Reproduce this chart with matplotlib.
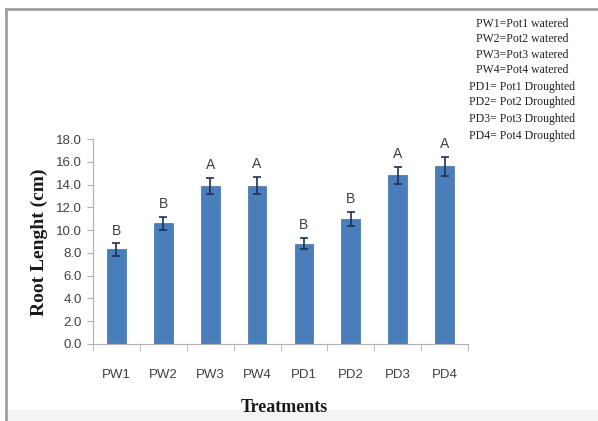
import matplotlib
matplotlib.use("Agg")
import matplotlib.pyplot as plt
from matplotlib.patches import Rectangle
from matplotlib.lines import Line2D
import numpy as np

categories = ["PW1", "PW2", "PW3", "PW4", "PD1", "PD2", "PD3", "PD4"]
values = [8.3, 10.6, 13.9, 13.9, 8.8, 11.0, 14.8, 15.6]
errors = [0.55, 0.55, 0.7, 0.75, 0.5, 0.6, 0.75, 0.85]
letters = ["B", "B", "A", "A", "B", "B", "A", "A"]
legend_lines = ["PW1=Pot1 watered", "PW2=Pot2 watered", "PW3=Pot3 watered",
                "PW4=Pot4 watered", "PD1= Pot1 Droughted", "PD2= Pot2 Droughted",
                "PD3= Pot3 Droughted", "PD4= Pot4 Droughted"]
yticks = np.arange(0, 18.01, 2.0)

W, H = 598, 421
fig = plt.figure(figsize=(W / 100, H / 100), dpi=100)
fig.patch.set_facecolor("white")

# outer frame
fig.add_artist(Line2D([6 / W, 6 / W], [0, 1 - 9 / H], color="#a0a0a0", lw=2.0, transform=fig.transFigure))
fig.add_artist(Line2D([6 / W, 1], [1 - 9 / H, 1 - 9 / H], color="#a0a0a0", lw=2.0, transform=fig.transFigure))
fig.add_artist(Rectangle((7 / W, 0), 1, 11 / H, color="#f4f4f4", transform=fig.transFigure, zorder=0))

ax = fig.add_axes([93 / W, 77 / H, (468 - 93) / W, (344 - 139) / H])
x = np.arange(len(categories))
ax.bar(x, values, width=0.4, color="#4A7EBB", edgecolor="#3f6fa8", linewidth=0.5, zorder=2)
ax.errorbar(x, values, yerr=errors, fmt="none", ecolor="#1f2f55", elinewidth=1.2,
            capsize=3, capthick=1.2, zorder=3)
for xi, v, e, l in zip(x, values, errors, letters):
    ax.text(xi, v + e + 0.5, l, ha="center", va="bottom", fontsize=10,
            color="#404040", family="Liberation Sans")

ax.set_xlim(-0.5, len(categories) - 0.5)
ax.set_ylim(0, 18)
ax.set_yticks(yticks)
ax.set_yticklabels([f"{t:.1f}" for t in yticks], fontsize=9.5, color="#404040", family="Liberation Sans")
ax.set_xticks(x)
ax.set_xticklabels(categories, fontsize=9.5, color="#404040", family="Liberation Sans")
ax.tick_params(axis="x", length=0, pad=18)
ax.set_xticks(np.arange(-0.5, len(categories), 1.0), minor=True)
ax.tick_params(axis="x", which="minor", length=5, color="#b0b0b0", direction="out")
ax.tick_params(axis="y", length=4, color="#b0b0b0", direction="out", pad=4)
for s in ["top", "right"]:
    ax.spines[s].set_visible(False)
for s in ["left", "bottom"]:
    ax.spines[s].set_color("#b0b0b0")
    ax.spines[s].set_linewidth(0.8)

fig.text(39 / W, 1 - 242 / H, "Root Lenght (cm)", rotation=90, ha="center", va="center",
         fontsize=14, fontweight="bold", family="Liberation Serif", color="#1a1a1a")
fig.text(284 / W, 1 - 407 / H, "Treatments", ha="center", va="center",
         fontsize=13, fontweight="bold", family="Liberation Serif", color="#1a1a1a")

ys = [24, 39, 55, 70, 87, 102, 119, 136]
for t, yy in zip(legend_lines, ys):
    fig.text(522 / W, 1 - yy / H, t, ha="center", va="center", fontsize=8.5,
             family="Liberation Serif", color="#222222")

fig.savefig("out.png", dpi=100)
